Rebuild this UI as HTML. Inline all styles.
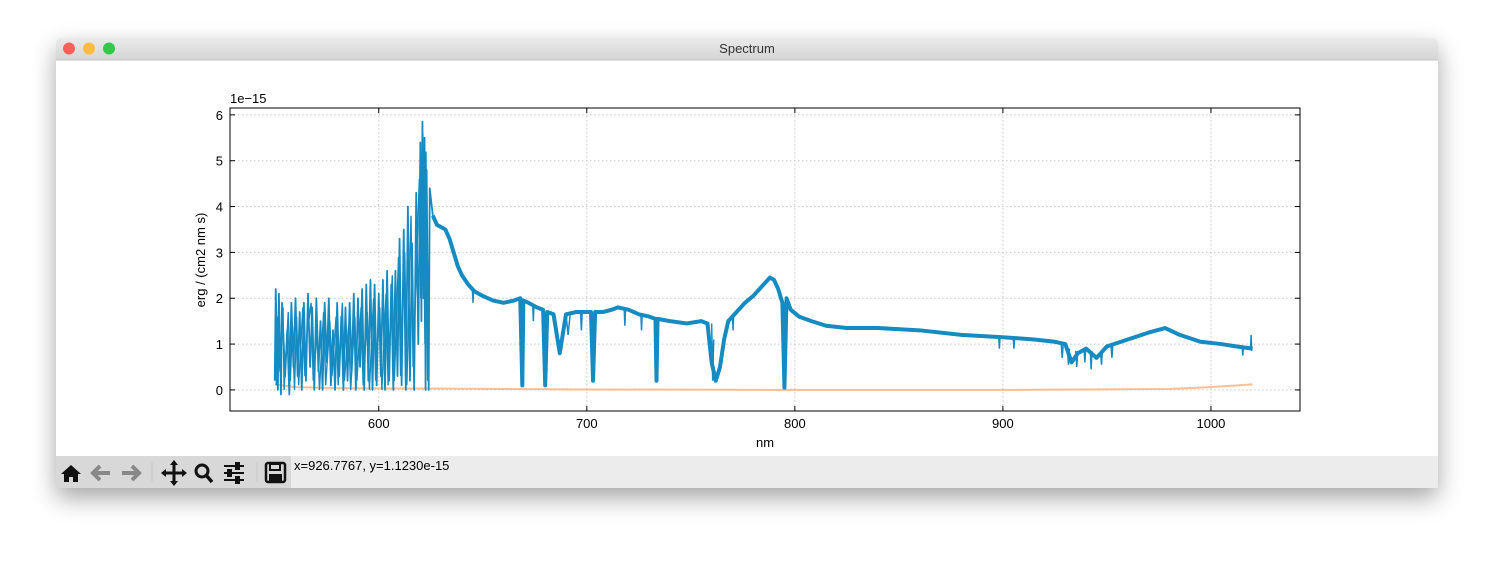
<!DOCTYPE html>
<html><head><meta charset="utf-8"><style>
body{margin:0;background:#fff;width:1494px;height:562px;overflow:hidden;font-family:"Liberation Sans",sans-serif}
</style></head><body>
<svg width="1494" height="562" xmlns="http://www.w3.org/2000/svg">
<defs>
<filter id="sh" x="-10%" y="-10%" width="120%" height="130%"><feDropShadow dx="0" dy="10" stdDeviation="12" flood-opacity="0.35"/></filter>
<linearGradient id="tb" x1="0" y1="0" x2="0" y2="1"><stop offset="0" stop-color="#ebebeb"/><stop offset="1" stop-color="#d5d5d5"/></linearGradient>
</defs>
<rect x="56" y="38" width="1382" height="450" rx="5" fill="#fff" filter="url(#sh)"/>
<path d="M56 60 V43 a5 5 0 0 1 5 -5 H1433 a5 5 0 0 1 5 5 V60 Z" fill="url(#tb)"/>
<line x1="56" y1="60" x2="1438" y2="60" stroke="#c4c4c4"/>
<circle cx="69" cy="48.5" r="6" fill="#fc605b"/>
<circle cx="89" cy="48.5" r="6" fill="#fdbc40"/>
<circle cx="109" cy="48.5" r="6" fill="#34c84a"/>
<text x="747" y="53" font-size="13" text-anchor="middle" fill="#333">Spectrum</text>

<g id="plot"></g>

<rect x="56" y="456" width="1382" height="32" fill="#ececec"/>
<rect x="56" y="456" width="235" height="32" fill="#d8d8d8"/>
<g><path d="M71 465 L61 474 H64 V482 H69 V477 H73 V482 H78 V474 H81 Z" fill="#111"/></g>
<g><path d="M93 473 H110 M100 466 L93 473 L100 480" stroke="#888" stroke-width="4" fill="none"/></g>
<g><path d="M122 473 H139 M132 466 L139 473 L132 480" stroke="#888" stroke-width="4" fill="none"/></g>
<line x1="152" y1="462" x2="152" y2="482" stroke="#c8c8c8"/>
<g><path d="M174 462 V484 M163 473 H185" stroke="#111" stroke-width="3"/><path d="M174 460 l-4 5 h8Z M174 486 l-4 -5 h8Z M161 473 l5 -4 v8Z M187 473 l-5 -4 v8Z" fill="#111"/></g>
<g><circle cx="202" cy="471" r="6" stroke="#111" stroke-width="3" fill="none"/><line x1="206" y1="475" x2="212" y2="482" stroke="#111" stroke-width="3.5"/></g>
<g stroke="#111" stroke-width="2"><line x1="224" y1="466" x2="244" y2="466"/><line x1="224" y1="473" x2="244" y2="473"/><line x1="224" y1="480" x2="244" y2="480"/><rect x="236" y="463" width="3" height="6" fill="#111"/><rect x="228" y="470" width="3" height="6" fill="#111"/><rect x="236" y="477" width="3" height="6" fill="#111"/></g>
<line x1="257" y1="462" x2="257" y2="482" stroke="#c8c8c8"/>
<g><rect x="266" y="463" width="19" height="19" rx="2" fill="none" stroke="#111" stroke-width="2.5"/><rect x="270" y="464" width="10" height="6" fill="none" stroke="#111" stroke-width="2"/><rect x="269" y="474" width="13" height="7" fill="#111"/></g>
<text x="294" y="470" font-size="13" fill="#000">x=926.7767, y=1.1230e-15</text>
</svg>
<script>
const xTicks=[600,700,800,900,1000];
const yTicks=[0,1,2,3,4,5,6];
const fluxData=[[550,0.2],[550.5,2.2],[551.5,0],[552,2.1],[553,-0.1],[553.5,1.9],[555,0.3],[556,1.3],[557,-0.1],[558,1.9],[559,0.5],[560,2.0],[561,0.3],[562,1.7],[563,0],[564,1.9],[565,0.2],[566,2.1],[567,0.5],[568,1.8],[569,0],[570,2.0],[571,0.4],[572,1.5],[573,0],[574,1.9],[575,0.6],[576,2.0],[577,0.1],[578,1.3],[579,0],[580,1.9],[581,0.3],[582,1.6],[583,0],[584,1.8],[585,0.2],[586,1.9],[587,0.4],[588,2.1],[589,0],[590,2.0],[591,0.5],[592,2.2],[593,0],[594,2.3],[595,0.2],[596,2.4],[597,0],[598,2.3],[599,0.1],[600,2.1],[601,0.3],[602,2.4],[603,0],[604,2.6],[605,0.2],[606,2.3],[607,0],[608,2.6],[609,0.3],[610,3.3],[611,0.1],[612,3.5],[613,0],[614,4.0],[615,0.2],[616,3.2],[617,0],[618,4.3],[619,1.0],[620,5.4],[620.5,1.5],[621,5.85],[621.5,2],[622,5.5],[622.5,0],[623,4.8],[624,0.0],[624.5,4.4],[626,3.8],[628,3.6],[630,3.55],[632,3.5],[634,3.3],[636,3.0],[638,2.7],[640,2.5],[643,2.3],[646,2.15],[650,2.05],[655,1.95],[660,1.9],[665,1.95],[668,2.0],[669,0.1],[669.5,1.95],[672,1.9],[676,1.8],[679,1.75],[680,0.1],[681,1.7],[684,1.65],[687,0.8],[690,1.65],[695,1.7],[700,1.7],[702,1.7],[703,0.2],[704,1.7],[708,1.7],[712,1.75],[715,1.8],[720,1.75],[725,1.65],[730,1.6],[733,1.55],[733.5,0.2],[734,1.55],[740,1.5],[748,1.45],[755,1.5],[758,1.45],[760,0.6],[762,0.2],[764,0.5],[766,1.1],[768,1.5],[772,1.7],[776,1.9],[780,2.05],[784,2.25],[788,2.45],[790,2.4],[792,2.2],[794,1.9],[795,0.05],[796,2.0],[798,1.75],[802,1.6],[808,1.5],[815,1.4],[825,1.35],[840,1.35],[860,1.3],[880,1.2],[900,1.15],[915,1.1],[925,1.05],[930,1.0],[933,0.6],[936,0.8],[940,0.9],[945,0.7],[950,0.95],[960,1.1],[970,1.25],[978,1.35],[985,1.2],[995,1.05],[1005,1.0],[1012,0.95],[1020,0.9]];
// extra narrow spikes/absorption features (thin overlay)
const spikeData=[[550.2,1.2],[550.8,0.1],[551.2,1.6],[552.5,0.4],[554,1.8],[554.5,0],[556.5,1.7],[557.5,0.2],[558.5,1.4],[559.5,0],[560.5,1.6],[561.5,0.1],[563.5,1.8],[564.5,0.3],[565.5,1.2],[567.5,1.9],[568.5,0.2],[570.5,1.3],[571.5,0],[573.5,1.7],[574.5,0.1],[576.5,1.5],[577.5,0.3],[579.5,1.6],[580.5,0.1],[582.5,1.9],[583.5,0.2],[585.5,1.4],[586.5,0],[588.5,1.6],[589.5,0.2],[591.5,1.8],[592.5,0.1],[594.5,1.7],[595.5,0],[597.5,2.0],[598.5,0.2],[600.5,1.8],[601.5,0],[603.5,2.1],[604.5,0.1],[606.5,2.5],[607.5,0.2],[609.5,2.9],[610.5,0.3],[612.5,3.0],[613.5,0.1],[615.5,3.8],[616.5,0.5],[619.5,4.6],[620.2,2.0],[621.2,5.6],[622.2,1.0],[622.7,5.2],[623.5,0.2]];
const absData=[[645,2.2],[645.3,1.9],[645.6,2.2],[674,1.85],[674.3,1.5],[674.6,1.85],[690,1.65],[691,1.2],[692,1.65],[697,1.7],[697.4,1.3],[697.8,1.7],[718,1.75],[718.3,1.4],[718.6,1.75],[726,1.65],[726.3,1.3],[726.6,1.65],[760,1.45],[760.5,0.2],[761,1.1],[770,1.65],[770.3,1.3],[770.6,1.65],[898,1.15],[898.3,0.9],[898.6,1.15],[905,1.12],[905.3,0.9],[905.6,1.12],[928,1.02],[928.5,0.7],[929,1.0],[931,0.95],[931.5,0.55],[932,0.9],[935,0.85],[935.5,0.5],[936,0.85],[939,0.9],[939.4,0.6],[939.8,0.9],[942,0.85],[942.4,0.45],[942.8,0.85],[947,0.8],[947.4,0.55],[947.8,0.85],[952,0.95],[952.4,0.7],[952.8,0.95],[1015,0.95],[1015.3,0.75],[1015.6,0.95],[1019,0.9],[1019.3,1.2],[1019.6,0.85]];
const errData=[[550,0.12],[560,0.06],[580,0.04],[620,0.03],[700,0.01],[800,0.0],[900,0.0],[980,0.02],[1000,0.06],[1020,0.12]];
const NS="http://www.w3.org/2000/svg";
const L=230,R=1300,T=108,B=411;
const xMin=528.5,xMax=1042.8,yMin=-0.46,yMax=6.15;
const xs=v=>L+(v-xMin)/(xMax-xMin)*(R-L);
const ys=v=>B-(v-yMin)/(yMax-yMin)*(B-T);
const g=document.getElementById('plot');
function mk(t,a){const e=document.createElementNS(NS,t);for(const k in a)e.setAttribute(k,a[k]);g.appendChild(e);return e;}
xTicks.forEach(v=>{const x=xs(v);
 const gl=mk('line',{x1:x,y1:T,x2:x,y2:B,stroke:'#c8c8c8','stroke-dasharray':'1.5,2.5'});
 
 mk('line',{x1:x,y1:B,x2:x,y2:B-5,stroke:'#000'});mk('line',{x1:x,y1:T,x2:x,y2:T+5,stroke:'#000'});
 const t=mk('text',{x:x,y:B+17,'font-size':13,'text-anchor':'middle',fill:'#000'});t.textContent=v;
 });
yTicks.forEach(v=>{const y=ys(v);
 const gl=mk('line',{x1:L,y1:y,x2:R,y2:y,stroke:'#c8c8c8','stroke-dasharray':'1.5,2.5'});
 
 mk('line',{x1:L,y1:y,x2:L+5,y2:y,stroke:'#000'});mk('line',{x1:R,y1:y,x2:R-5,y2:y,stroke:'#000'});
 const t=mk('text',{x:L-7,y:y+5,'font-size':13,'text-anchor':'end',fill:'#000'});t.textContent=v;
 });
const err=mk('polyline',{points:errData.map(p=>xs(p[0])+','+ys(p[1])).join(' '),fill:'none',stroke:'#f7b07a','stroke-width':2,opacity:0.8});


const sp=mk('polyline',{points:spikeData.map(p=>xs(p[0])+','+ys(p[1])).join(' '),fill:'none',stroke:'#168bc2','stroke-width':1.4});


const fl=mk('polyline',{points:fluxData.map(p=>xs(p[0])+','+ys(p[1])).join(' '),fill:'none',stroke:'#168bc2','stroke-width':1.8,'stroke-linejoin':'round'});


const th=mk('polyline',{points:fluxData.filter(p=>p[0]>=626).map(p=>xs(p[0])+','+ys(p[1])).join(' '),fill:'none',stroke:'#168bc2','stroke-width':4,'stroke-linejoin':'round'});


for(let i=0;i+2<absData.length;i+=3){
 const a=mk('polyline',{points:[absData[i],absData[i+1],absData[i+2]].map(p=>xs(p[0])+','+ys(p[1])).join(' '),fill:'none',stroke:'#168bc2','stroke-width':1.5});
 
 
}
const fr=mk('rect',{x:L,y:T,width:R-L,height:B-T,fill:'none',stroke:'#000','stroke-width':1});


const xl=mk('text',{x:(L+R)/2,y:447,'font-size':13,'text-anchor':'middle',fill:'#000'});xl.textContent='nm';


const yl=mk('text',{x:0,y:0,'font-size':13,'text-anchor':'middle',fill:'#000',transform:'translate(205,260) rotate(-90)'});yl.textContent='erg / (cm2 nm s)';


const off=mk('text',{x:230,y:103,'font-size':13,fill:'#000'});off.textContent='1e\u221215';


</script>
</body></html>
